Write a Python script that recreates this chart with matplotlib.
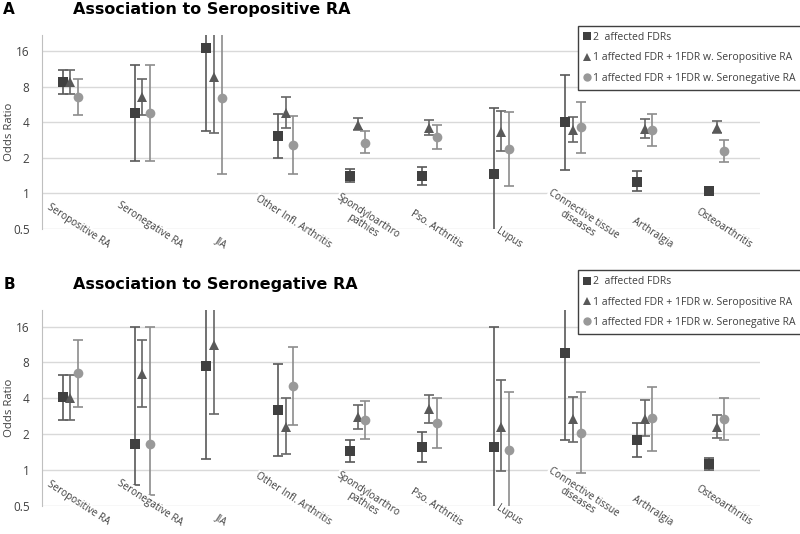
import numpy as np
import matplotlib
matplotlib.use("Agg")
import matplotlib.pyplot as plt
from matplotlib.lines import Line2D

plt.rcParams['font.family'] = ['Open Sans', 'DejaVu Sans']

categories = ["Seropositive RA", "Seronegative RA", "JIA", "Other Infl. Arthritis",
              "Spondyloarthro\npathies", "Pso. Arthritis", "Lupus",
              "Connective tissue\ndiseases", "Arthralgia", "Osteoarthritis"]
series_names = ["2  affected FDRs",
                "1 affected FDR + 1FDR w. Seropositive RA",
                "1 affected FDR + 1FDR w. Seronegative RA"]

# Panel A: association to seropositive RA (odds ratio, lower CI, upper CI)
a_two_or = [8.8, 4.8, 17.1, 3.07, 1.41, 1.40, 1.46, 4.0, 1.25, 1.05]
a_two_lo = [6.9, 1.9, 3.4, 2.0, 1.25, 1.19, 0.3, 1.57, 1.04, 1.02]
a_two_hi = [11.2, 12.2, 40, 4.7, 1.6, 1.67, 5.3, 10.1, 1.54, 1.09]
a_pos_or = [8.8, 6.6, 9.6, 4.8, 3.78, 3.55, 3.3, 3.43, 3.5, 3.58]
a_pos_lo = [6.9, 4.6, 3.25, 3.6, 3.43, 3.1, 2.28, 2.73, 2.95, 3.23]
a_pos_hi = [11.2, 9.3, 40, 6.5, 4.36, 4.2, 5.0, 4.45, 4.3, 4.14]
a_neg_or = [6.6, 4.8, 6.4, 2.56, 2.7, 3.0, 2.37, 3.64, 3.45, 2.31]
a_neg_lo = [4.6, 1.9, 1.47, 1.46, 2.18, 2.38, 1.15, 2.22, 2.53, 1.85]
a_neg_hi = [9.3, 12.2, 40, 4.5, 3.36, 3.8, 4.9, 5.9, 4.7, 2.84]

# Panel B: association to seronegative RA
b_two_or = [4.1, 1.67, 7.5, 3.2, 1.45, 1.58, 1.57, 9.6, 1.79, 1.13]
b_two_lo = [2.65, 0.75, 1.24, 1.33, 1.17, 1.18, 0.3, 1.79, 1.3, 1.0]
b_two_hi = [6.3, 16, 40, 7.74, 1.79, 2.1, 15.8, 40, 2.47, 1.28]
b_pos_or = [4.05, 6.4, 11.1, 2.32, 2.77, 3.24, 2.32, 2.67, 2.7, 2.32]
b_pos_lo = [2.65, 3.38, 2.94, 1.37, 2.2, 2.47, 0.99, 1.73, 1.95, 1.86]
b_pos_hi = [6.3, 12.4, 40, 4.05, 3.54, 4.24, 5.7, 4.12, 3.85, 2.88]
b_neg_or = [6.5, 1.67, np.nan, 5.1, 2.62, 2.49, 1.49, 2.05, 2.76, 2.68]
b_neg_lo = [3.38, 0.62, np.nan, 2.41, 1.82, 1.55, 0.3, 0.95, 1.46, 1.79]
b_neg_hi = [12.4, 16, np.nan, 10.8, 3.78, 4.02, 4.55, 4.49, 5.0, 4.05]

markers = ['s', '^', 'o']
marker_colors = ['#404040', '#595959', '#999999']
err_colors = ['#595959', '#666666', '#8c8c8c']
offsets = [-0.21, -0.105, 0.0]
text_color = '#404040'

fig = plt.figure(figsize=(8, 5.34), dpi=100)
ax_a = fig.add_axes([0.0525, 0.5712, 0.8975, 0.3633])
ax_b = fig.add_axes([0.0525, 0.0519, 0.8975, 0.3676])

panels = [
    (ax_a, "A", "Association to Seropositive RA",
     [(a_two_or, a_two_lo, a_two_hi), (a_pos_or, a_pos_lo, a_pos_hi), (a_neg_or, a_neg_lo, a_neg_hi)],
     0.952),
    (ax_b, "B", "Association to Seronegative RA",
     [(b_two_or, b_two_lo, b_two_hi), (b_pos_or, b_pos_lo, b_pos_hi), (b_neg_or, b_neg_lo, b_neg_hi)],
     0.4945),
]

x = np.arange(len(categories))
for ax, letter, title, data, leg_top in panels:
    for k, (orr, lo, hi) in enumerate(data):
        orr = np.array(orr, dtype=float)
        yerr = [orr - np.array(lo), np.array(hi) - orr]
        ax.errorbar(x + offsets[k], orr, yerr=yerr, fmt='none', ecolor=err_colors[k],
                    elinewidth=1.2, capsize=3.5, capthick=1.2, zorder=2)
        ax.plot(x + offsets[k], orr, linestyle='none', marker=markers[k], ms=7,
                color=marker_colors[k], markeredgewidth=0, zorder=3)

    ax.set_yscale('log', base=2)
    ax.set_ylim(0.5, 22)
    ax.set_xlim(-0.5, 9.5)
    ax.set_yticks([0.5, 1, 2, 4, 8, 16])
    ax.set_yticklabels(['0.5', '1', '2', '4', '8', '16'])
    ax.yaxis.set_minor_locator(matplotlib.ticker.NullLocator())
    ax.tick_params(axis='y', length=0, pad=9, labelsize=8.5, labelcolor=text_color)
    ax.set_xticks([])
    ax.grid(axis='y', color='#d9d9d9', linewidth=1)
    ax.set_axisbelow(True)
    for s in ['top', 'right', 'bottom']:
        ax.spines[s].set_visible(False)
    ax.spines['left'].set_color('#bfbfbf')
    ax.set_ylabel('Odds Ratio', fontsize=8.2, color=text_color)
    ax.yaxis.set_label_coords(-0.037, 0.5)

    for i, cat in enumerate(categories):
        ax.text(i, -0.11, cat, transform=ax.get_xaxis_transform(), rotation=-33,
                ha='center', va='bottom', fontsize=7.2, color=text_color,
                linespacing=1.0, zorder=4,
                bbox=dict(facecolor='white', edgecolor='none', pad=0.5))

    bbox = ax.get_position()
    fig.text(0.004, bbox.y1 + 0.047, letter, fontsize=11, fontweight='bold',
             family='DejaVu Sans', va='center', ha='left', color='black')
    fig.text(0.091, bbox.y1 + 0.047, title, fontsize=11.5, fontweight='bold',
             family='DejaVu Sans', va='center', ha='left', color='black')

    handles = [Line2D([], [], linestyle='none', marker=markers[k], ms=6,
                      color=marker_colors[k], markeredgewidth=0) for k in range(3)]
    leg = ax.legend(handles, series_names, loc='upper left',
                    bbox_to_anchor=(0.722, leg_top), bbox_transform=fig.transFigure,
                    fontsize=7.5, frameon=True, fancybox=False, framealpha=1,
                    handlelength=0.6, handletextpad=0.3, labelspacing=0.9,
                    borderpad=0.6, borderaxespad=0)
    leg.get_frame().set_edgecolor('#404040')
    leg.get_frame().set_linewidth(1)
    for t in leg.get_texts():
        t.set_color(text_color)

fig.savefig('out.png', dpi=100)
